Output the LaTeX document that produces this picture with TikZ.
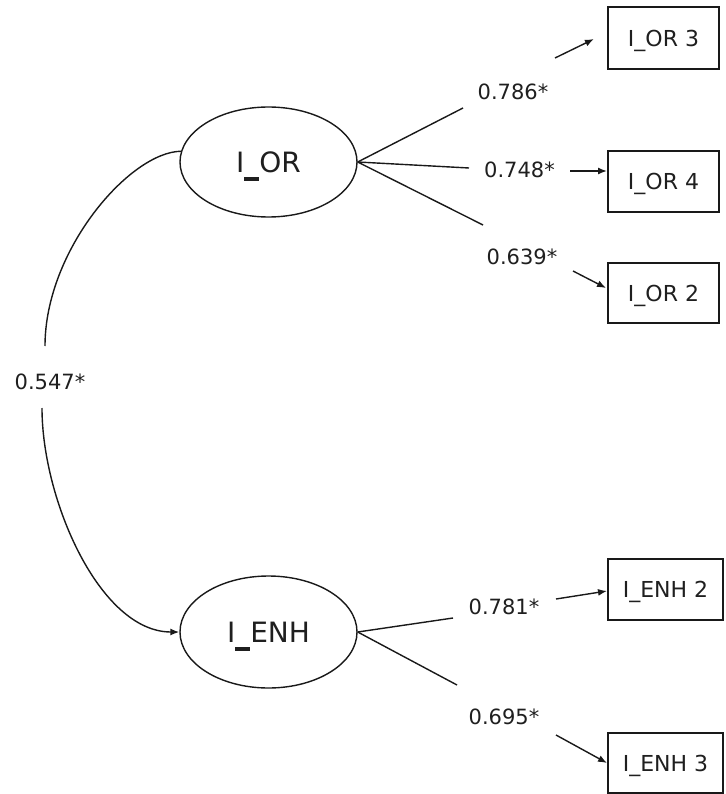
\documentclass[tikz,border=0pt]{standalone}
\usepackage{fontspec}
\setmainfont{DejaVu Sans}
\usetikzlibrary{arrows.meta,shapes.geometric}
\newcommand{\thickus}{\smash{\rule[-9pt]{15pt}{4pt}}}
\begin{document}
\begin{tikzpicture}[x=1pt,y=-1pt,
  latent/.style={draw=black!90,ellipse,line width=1.4pt,inner sep=0pt,text=black!88,
    text depth=0pt,font=\fontsize{28}{30}\selectfont},
  obs/.style={draw=black!90,rectangle,line width=1.4pt,inner sep=0pt,text=black!88,
    text depth=0pt,font=\fontsize{22}{24}\selectfont},
  coef/.style={inner sep=0pt,text=black!88,text depth=0pt,font=\fontsize{21}{23}\selectfont},
  link/.style={draw=black!90,line width=1.4pt},
  arr/.style={draw=black!90,line width=1.4pt,-{Latex[length=9pt,width=7pt]}}]
\useasboundingbox (0,0) rectangle (725,794);

% latent variables
\node[latent,minimum width=177pt,minimum height=110pt] (ior) at (268.5,162) {I\thickus OR};
\node[latent,minimum width=177pt,minimum height=112pt] (ienh) at (268.5,632) {I\thickus ENH};

% observed variables
\node[obs,minimum width=111pt,minimum height=62pt] (o3) at (663.5,38) {I\_OR 3};
\node[obs,minimum width=111pt,minimum height=61pt] (o4) at (663.5,181.5) {I\_OR 4};
\node[obs,minimum width=111pt,minimum height=60pt] (o2) at (663.5,293) {I\_OR 2};
\node[obs,minimum width=115pt,minimum height=61pt] (e2) at (665.5,589.5) {I\_ENH 2};
\node[obs,minimum width=115pt,minimum height=60pt] (e3) at (665.5,763) {I\_ENH 3};

% coefficient labels
\node[coef] (l786) at (513,92) {0.786*};
\node[coef] (l748) at (519.5,170) {0.748*};
\node[coef] (l639) at (522,257) {0.639*};
\node[coef] (l781) at (504,607) {0.781*};
\node[coef] (l695) at (504,717) {0.695*};
\node[coef] (l547) at (50,382) {0.547*};

% segment end points around the labels
\coordinate (a786) at (463,108);
\coordinate (b786) at (555,58);
\coordinate (t786) at (594,39);
\coordinate (a748) at (469,168);
\coordinate (b748) at (570,171);
\coordinate (t748) at (607,171);
\coordinate (a639) at (483,225);
\coordinate (b639) at (573,271);
\coordinate (t639) at (606,288);
\coordinate (a781) at (453,618);
\coordinate (b781) at (556,599);
\coordinate (t781) at (607,591);
\coordinate (a695) at (457,685);
\coordinate (b695) at (556,735);
\coordinate (t695) at (607,763);
\coordinate (a547) at (45,346);
\coordinate (b547) at (42,408);

% loadings I_OR
\draw[link] (ior.east) -- (a786);
\draw[arr] (b786) -- (t786);
\draw[link] (ior.east) -- (a748);
\draw[arr] (b748) -- (t748);
\draw[link] (ior.east) -- (a639);
\draw[arr] (b639) -- (t639);

% loadings I_ENH
\draw[link] (ienh.east) -- (a781);
\draw[arr] (b781) -- (t781);
\draw[link] (ienh.east) -- (a695);
\draw[arr] (b695) -- (t695);

% correlation
\draw[link] (ior.173) .. controls (130,152) and (45,250) .. (a547);
\draw[arr] (b547) .. controls (42,500) and (100,632) .. (ienh.west);
\end{tikzpicture}
\end{document}
